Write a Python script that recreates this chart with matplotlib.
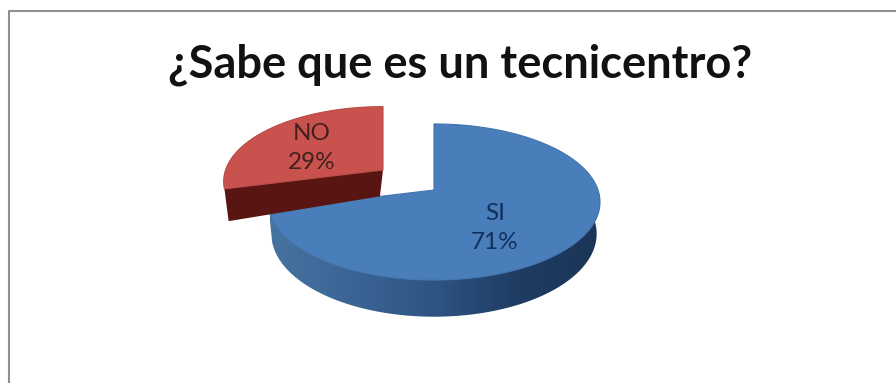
import numpy as np
import matplotlib.pyplot as plt
from matplotlib.colors import LinearSegmentedColormap
from matplotlib.patches import Polygon

plt.rcParams['font.family'] = ['Lato', 'DejaVu Sans']

titulo = '¿Sabe que es un tecnicentro?'
categorias = ['SI', 'NO']
porcentajes = [71, 29]

# proyeccion del disco: centro, radios y fuga
cx, cy = 434, 190
rx, ry = 164, 76.2
fuga = 0.154
grosor = 31
encoge = 0.98


def cara_sup(ang, esc=1.0, dx=0, dy=0):
    # ang en grados, sentido horario desde las 12
    u = np.sin(np.radians(ang))
    v = np.cos(np.radians(ang))
    s = 1 / (1 + fuga * v)
    return cx + esc * rx * u * s + dx, cy - esc * ry * v * s + dy, s


def cara_inf(ang, esc=1.0, dx=0, dy=0):
    x, y, s = cara_sup(ang, esc, dx, dy)
    return cx + (x - cx) * encoge, y + grosor * s


fig = plt.figure(figsize=(8.96, 3.83), dpi=100)
ax = fig.add_axes([0, 0, 1, 1])
ax.set_xlim(0, 896)
ax.set_ylim(383, 0)
ax.axis('off')

# marco del grafico
ax.plot([8.5, 8.5, 896], [383, 11, 11], color='#8f8f8f', lw=1.5, solid_capstyle='butt')

angulos = np.cumsum([0] + porcentajes) * 360 / sum(porcentajes)

# porcion SI: lateral con degradado y cara superior
a0, a1 = angulos[0], angulos[1]
a = np.linspace(a0, a1, 300)
xs, ys, _ = cara_sup(a)
lado = np.linspace(90, a1, 200)
xt, yt, _ = cara_sup(lado)
xb, yb = cara_inf(lado)
borde = Polygon(np.r_[np.c_[xt, yt], np.c_[xb, yb][::-1]], closed=True, fc='none', ec='none')
ax.add_patch(borde)
degradado = LinearSegmentedColormap.from_list('lateral', ['#47739f', '#3b6496', '#2e5481', '#1f3c63', '#1b3557'])
im = ax.imshow(np.linspace(0, 1, 256)[None, :], cmap=degradado, extent=[270, 602, 383, 0],
               aspect='auto', zorder=1)
im.set_clip_path(borde)

ax.add_patch(Polygon(np.r_[np.c_[xs, ys], [[cx, cy]]], closed=True, fc='#4a7ebb', ec='#4273ad',
                     lw=0.8, zorder=2))

# porcion NO, separada del disco y algo menor por la perspectiva
esc_no, dx, dy = 0.96, -51, -20
a = np.linspace(angulos[1], angulos[2], 120)
xs, ys, _ = cara_sup(a, esc_no, dx, dy)
apice = [cx + dx, cy + dy]
xl, yl, _ = cara_sup(angulos[1], esc_no, dx, dy)
xbi, ybi = cara_inf(angulos[1], esc_no, dx, dy)
xba = cx + (apice[0] - cx) * 1.06
yba = apice[1] + grosor * 0.85
ax.add_patch(Polygon([[xl, yl], apice, [xba, yba], [xbi, ybi]], closed=True, fc='#591512',
                     ec='none', zorder=3))
ax.add_patch(Polygon(np.r_[np.c_[xs, ys], [apice]], closed=True, fc='#c9524e', ec='#b84a46',
                     lw=0.8, zorder=4))

# textos
ax.text(460, 65, titulo, fontsize=32.6, fontweight='bold', color='#111111', ha='center', va='center')
ax.text(495, 228, f'{categorias[0]}\n{porcentajes[0]}%', fontsize=17.5, color='#12305c',
        ha='center', va='center', linespacing=1.45, zorder=5)
ax.text(312, 148, f'{categorias[1]}\n{porcentajes[1]}%', fontsize=17.5, color='#42201e',
        ha='center', va='center', linespacing=1.45, zorder=5)

fig.savefig('out.png', dpi=100)
